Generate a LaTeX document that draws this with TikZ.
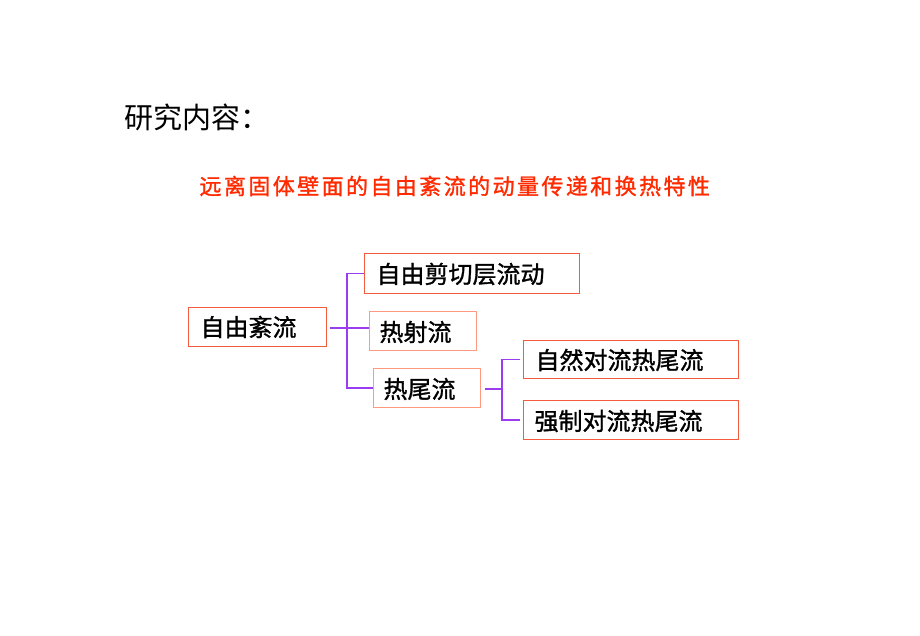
\documentclass[tikz,border=0pt]{standalone}
\usepackage{fontspec}
\newfontfamily\cjk{Noto Sans CJK SC}
\newfontfamily\cjkb[FakeBold=1.2]{Noto Sans CJK SC}
\definecolor{boxred}{HTML}{F25C3C}
\definecolor{boxpale}{HTML}{FF9A80}
\definecolor{titred}{HTML}{FF2A00}
\definecolor{linep}{HTML}{9B3CF0}
\begin{document}
\begin{tikzpicture}[x=1pt,y=-1pt,
  bx/.style={draw=boxred,line width=1pt,inner sep=0pt,anchor=north west},
  bxp/.style={bx,draw=boxpale},
  lbl/.style={anchor=west,font=\cjkb\fontsize{24}{26}\selectfont},
  conn/.style={draw=linep,line width=1.3pt}]
\useasboundingbox[fill=white] (0,0) rectangle (920,635);
\node[anchor=west,font=\cjk\fontsize{29}{32}\selectfont] (title) at (121,117) {研究内容：};
\node[anchor=west,text=titred,font=\cjkb\fontsize{22}{26}\selectfont\addfontfeatures{LetterSpace=11}] (sub) at (196,186) {远离固体壁面的自由紊流的动量传递和换热特性};
\node[bx,minimum width=138pt,minimum height=39pt] (a) at (188,307) {};
\node[lbl] (at) at (197,327) {自由紊流};
\node[bx,minimum width=215pt,minimum height=40pt] (b) at (364,253) {};
\node[lbl] (bt) at (373,274) {自由剪切层流动};
\node[bxp,minimum width=107pt,minimum height=39pt] (c) at (369,311) {};
\node[lbl] (ct) at (376,332) {热射流};
\node[bxp,minimum width=107pt,minimum height=39pt] (d) at (373,368) {};
\node[lbl] (dt) at (380,389) {热尾流};
\node[bx,minimum width=215pt,minimum height=38pt] (e) at (523,340) {};
\node[lbl] (et) at (532,360) {自然对流热尾流};
\node[bx,minimum width=215pt,minimum height=39pt] (f) at (523,400) {};
\node[lbl] (ft) at (531,421) {强制对流热尾流};
\coordinate (j1) at (347,328);
\coordinate (j2) at (502,389);
\draw[conn] (330,328) -- (j1);
\draw[conn] (b.west) -| (j1) |- (d.west);
\draw[conn] (j1) -- (j1 -| c.west);
\draw[conn] (485,389) -- (j2);
\draw[conn] ([xshift=-3pt]e.west) -| (j2) |- ([xshift=-3pt]f.west);
\end{tikzpicture}
\end{document}
